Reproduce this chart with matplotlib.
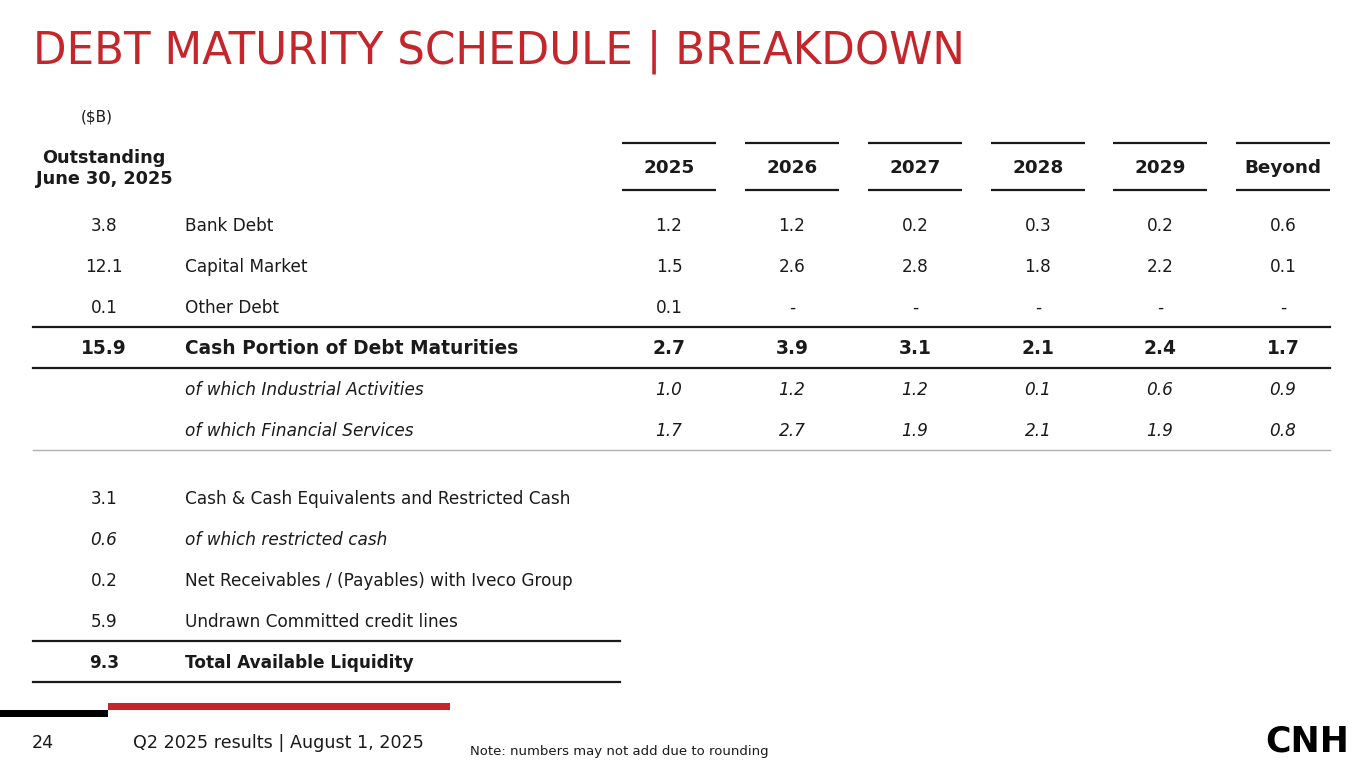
import matplotlib.pyplot as plt

# DADOS DA TABELA
anos = ["2025", "2026", "2027", "2028", "2029", "Beyond"]
linhas = ["Bank Debt", "Capital Market", "Other Debt"]
outstanding = ["3.8", "12.1", "0.1"]
valores = [
    ["1.2", "1.2", "0.2", "0.3", "0.2", "0.6"],
    ["1.5", "2.6", "2.8", "1.8", "2.2", "0.1"],
    ["0.1", "-", "-", "-", "-", "-"],
]
total_label = "Cash Portion of Debt Maturities"
total_out = "15.9"
total_vals = ["2.7", "3.9", "3.1", "2.1", "2.4", "1.7"]
sub_labels = ["of which Industrial Activities", "of which Financial Services"]
sub_vals = [
    ["1.0", "1.2", "1.2", "0.1", "0.6", "0.9"],
    ["1.7", "2.7", "1.9", "2.1", "1.9", "0.8"],
]
liq_labels = ["Cash & Cash Equivalents and Restricted Cash", "of which restricted cash",
              "Net Receivables / (Payables) with Iveco Group", "Undrawn Committed credit lines"]
liq_vals = ["3.1", "0.6", "0.2", "5.9"]
liq_total_label = "Total Available Liquidity"
liq_total = "9.3"

VERMELHO = "#C4262B"
TEXTO = "#1a1a1a"
FONTE = "DejaVu Sans"

fig = plt.figure(figsize=(13.65, 7.68), dpi=100)
ax = fig.add_axes([0, 0, 1, 1])
ax.set_xlim(0, 1365)
ax.set_ylim(768, 0)
ax.axis("off")

def txt(x, y, s, ha="left", size=12.2, weight="normal", style="normal", color=TEXTO):
    ax.text(x, y, s, ha=ha, va="center", fontsize=size, fontweight=weight,
            fontstyle=style, color=color, family=FONTE)

# TITULO
ax.text(33, 52, "DEBT MATURITY SCHEDULE | BREAKDOWN", ha="left", va="center",
        fontsize=31.4, color=VERMELHO, family=FONTE)

# CABECALHO
txt(97, 117, "($B)", ha="center", size=11)
txt(104, 158, "Outstanding", ha="center", weight="bold", size=12.7)
txt(104, 179, "June 30, 2025", ha="center", weight="bold", size=12.7)

col_x = [669, 792, 915, 1038, 1160, 1283]
meia = 47
for cx, a in zip(col_x, anos):
    txt(cx, 168, a, ha="center", weight="bold", size=13.2)
    ax.plot([cx - meia, cx + meia], [143, 143], color=TEXTO, lw=1.6, solid_capstyle="butt")
    ax.plot([cx - meia, cx + meia], [190, 190], color=TEXTO, lw=1.6, solid_capstyle="butt")

x_out = 104
x_lab = 185

# LINHAS DE DIVIDA
y_rows = [226, 267, 308]
for y, o, l, vals in zip(y_rows, outstanding, linhas, valores):
    txt(x_out, y, o, ha="center")
    txt(x_lab, y, l)
    for cx, v in zip(col_x, vals):
        txt(cx, y, v, ha="center")

ax.plot([33, 1330], [327, 327], color=TEXTO, lw=1.6)
y = 349
txt(x_out, y, total_out, ha="center", weight="bold", size=13.4)
txt(x_lab, y, total_label, weight="bold", size=13.4)
for cx, v in zip(col_x, total_vals):
    txt(cx, y, v, ha="center", weight="bold", size=13.4)
ax.plot([33, 1330], [368, 368], color=TEXTO, lw=1.6)

for y, l, vals in zip([390, 431], sub_labels, sub_vals):
    txt(x_lab, y, l, style="italic")
    for cx, v in zip(col_x, vals):
        txt(cx, y, v, ha="center", style="italic")
ax.plot([33, 1330], [450, 450], color="#b0b0b0", lw=1.0)

# LIQUIDEZ
for i, (y, l, v) in enumerate(zip([499, 540, 581, 622], liq_labels, liq_vals)):
    st = "italic" if i == 1 else "normal"
    txt(x_out, y, v, ha="center", style=st)
    txt(x_lab, y, l, style=st)
ax.plot([33, 620], [641, 641], color=TEXTO, lw=1.6)
txt(x_out, 663, liq_total, ha="center", weight="bold", size=12.2)
txt(x_lab, 663, liq_total_label, weight="bold", size=12.2)
ax.plot([33, 620], [682, 682], color=TEXTO, lw=1.6)

# RODAPE
ax.add_patch(plt.Rectangle((0, 710), 108, 6.5, color="black", lw=0))
ax.add_patch(plt.Rectangle((108, 703), 342, 7, color=VERMELHO, lw=0))
txt(32, 743, "24", size=12.6)
txt(133, 743, "Q2 2025 results | August 1, 2025", size=12.6)
txt(470, 751, "Note: numbers may not add due to rounding", size=9.5)
ax.text(1307, 742, "CNH", ha="center", va="center", fontsize=25, fontweight="heavy",
        color="black", family=FONTE)

plt.savefig("out.png", dpi=100)
